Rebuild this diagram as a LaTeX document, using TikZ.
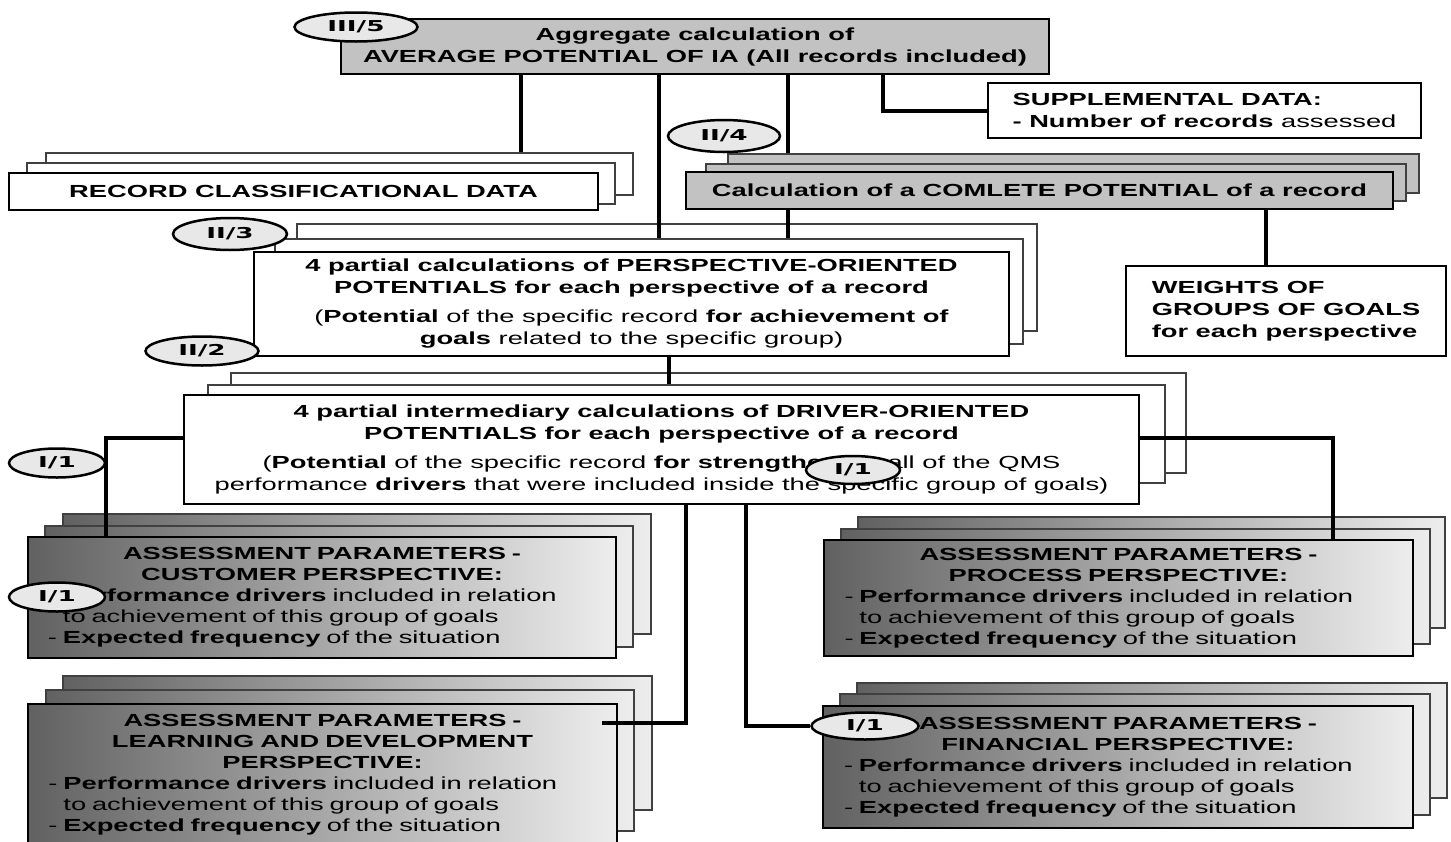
\documentclass[tikz,border=0pt]{standalone}
\usepackage{fontspec}
\setmainfont{Liberation Sans}[FakeStretch=1.56]
\newfontfamily\tagfont{DejaVu Sans}[FakeStretch=1.75]
\usetikzlibrary{shapes.geometric, positioning}
\definecolor{boxgray}{gray}{0.76}
\definecolor{taggray}{gray}{0.91}
\definecolor{sheetline}{gray}{0.25}
\definecolor{shadedark}{gray}{0.38}
\definecolor{shadelight}{gray}{0.93}
\tikzstyle{sheet} = [draw=sheetline, line width=1.5pt, rectangle, anchor=north west, inner sep=0pt]
\tikzstyle{front} = [draw, line width=2pt, rectangle, anchor=north west, fill=white, align=center, font=\fontsize{17.5}{22}\selectfont]
\tikzstyle{grayfill} = [fill=boxgray]
\tikzstyle{shadefill} = [left color=shadedark, right color=shadelight]
\tikzstyle{assess} = [front, shadefill, align=left, text width=548pt, font=\fontsize{17.5}{21}\selectfont]
\tikzstyle{tag} = [draw, ellipse, line width=2.5pt, fill=taggray, inner sep=0pt, font=\tagfont\bfseries\fontsize{15}{16}\selectfont]
\tikzstyle{conn} = [draw, line width=4pt]
\newcommand{\headline}[1]{\makebox[\linewidth]{\textbf{#1}}}
\begin{document}
\begin{tikzpicture}[x=1pt, y=-1pt]
	\useasboundingbox (0,0) rectangle (1451,841);
	
	% level III
	\node [front, grayfill, minimum width=708pt, minimum height=55pt] (top) at (340,18) {\textbf{Aggregate calculation of}\\\textbf{AVERAGE POTENTIAL OF IA (All records included)}};
	\node [front, align=left, minimum width=433pt, minimum height=55pt] (supp) at (987,82) {\textbf{SUPPLEMENTAL DATA:}\\\textbf{- Number of records} assessed};
	
	% record data
	\node [sheet, fill=white, minimum width=587pt, minimum height=42pt] (recb) at (45,152) {};
	\node [sheet, fill=white, minimum width=588pt, minimum height=41pt] (recm) at (26,162) {};
	\node [front, minimum width=589pt, minimum height=37pt] (rec) at (8,172) {\textbf{RECORD CLASSIFICATIONAL DATA}};
	
	% complete potential
	\node [sheet, grayfill, minimum width=691pt, minimum height=39pt] (cpltb) at (727,153) {};
	\node [sheet, grayfill, minimum width=700pt, minimum height=37pt] (cpltm) at (705,163) {};
	\node [front, grayfill, minimum width=707pt, minimum height=37pt] (cplt) at (685,171) {\textbf{Calculation of a COMLETE POTENTIAL of a record}};
	\node [front, align=left, minimum width=320pt, minimum height=90pt] (weights) at (1125,265) {\textbf{WEIGHTS OF}\\\textbf{GROUPS OF GOALS}\\\textbf{for each perspective}};
	
	% perspective-oriented potentials
	\node [sheet, fill=white, minimum width=740pt, minimum height=107pt] (p3b) at (296,223) {};
	\node [sheet, fill=white, minimum width=748pt, minimum height=105pt] (p3m) at (274,238) {};
	\node [front, minimum width=755pt, minimum height=104pt] (p3) at (253,251) {\textbf{4 partial calculations of PERSPECTIVE-ORIENTED}\\\textbf{POTENTIALS for each perspective of a record}\\[7pt](\textbf{Potential} of the specific record \textbf{for achievement of}\\\textbf{goals} related to the specific group)};
	
	% driver-oriented potentials
	\node [sheet, fill=white, minimum width=955pt, minimum height=100pt] (drvb) at (230,372) {};
	\node [sheet, fill=white, minimum width=957pt, minimum height=98pt] (drvm) at (207,384) {};
	\node [front, minimum width=955pt, minimum height=109pt] (drv) at (183,394) {\textbf{4 partial intermediary calculations of DRIVER-ORIENTED}\\\textbf{POTENTIALS for each perspective of a record}\\[7pt](\textbf{Potential} of the specific record \textbf{for strengthening} all of the QMS\\performance \textbf{drivers} that were included inside the specific group of goals)};
	
	% assessment parameters
	\node [sheet, shadefill, minimum width=588pt, minimum height=120pt] (custb) at (62,513) {};
	\node [sheet, shadefill, minimum width=588pt, minimum height=121pt] (custm) at (44,525) {};
	\node [assess, minimum width=588pt, minimum height=121pt] (cust) at (27,536) {\headline{ASSESSMENT PARAMETERS -}\\\headline{CUSTOMER PERSPECTIVE:}\\- \textbf{Performance drivers} included in relation\\\phantom{- }to achievement of this group of goals\\- \textbf{Expected frequency} of the situation};
	
	\node [sheet, shadefill, minimum width=587pt, minimum height=111pt] (procb) at (857,516) {};
	\node [sheet, shadefill, minimum width=589pt, minimum height=115pt] (procm) at (840,528) {};
	\node [assess, minimum width=589pt, minimum height=116pt] (proc) at (823,539) {\headline{ASSESSMENT PARAMETERS -}\\\headline{PROCESS PERSPECTIVE:}\\- \textbf{Performance drivers} included in relation\\\phantom{- }to achievement of this group of goals\\- \textbf{Expected frequency} of the situation};
	
	\node [sheet, shadefill, minimum width=589pt, minimum height=134pt] (learnb) at (62,675) {};
	\node [sheet, shadefill, minimum width=588pt, minimum height=141pt] (learnm) at (45,689) {};
	\node [assess, minimum width=589pt, minimum height=142pt] (learn) at (27,703) {\headline{ASSESSMENT PARAMETERS -}\\\headline{LEARNING AND DEVELOPMENT}\\\headline{PERSPECTIVE:}\\- \textbf{Performance drivers} included in relation\\\phantom{- }to achievement of this group of goals\\- \textbf{Expected frequency} of the situation};
	
	\node [sheet, shadefill, minimum width=590pt, minimum height=115pt] (finb) at (856,682) {};
	\node [sheet, shadefill, minimum width=590pt, minimum height=121pt] (finm) at (839,693) {};
	\node [assess, minimum width=590pt, minimum height=122pt] (fin) at (822,705) {\headline{ASSESSMENT PARAMETERS -}\\\headline{FINANCIAL PERSPECTIVE:}\\- \textbf{Performance drivers} included in relation\\\phantom{- }to achievement of this group of goals\\- \textbf{Expected frequency} of the situation};
	
	% level tags
	\node [tag, minimum width=123pt, minimum height=29pt] (tagIIIv) at (356,27) {III/5};
	\node [tag, minimum width=112pt, minimum height=32pt] (tagIIiv) at (724,136) {II/4};
	\node [tag, minimum width=114pt, minimum height=32pt] (tagIIiii) at (230,234) {II/3};
	\node [tag, minimum width=113pt, minimum height=29pt] (tagIIii) at (202,351) {II/2};
	\node [tag, minimum width=107pt, minimum height=27pt] (tagfin) at (865,726) {I/1};
	
	\coordinate (tA) at ([xshift=-174pt]top.south);
	\coordinate (tB) at ([xshift=-36pt]top.south);
	\coordinate (tC) at ([xshift=93pt]top.south);
	\coordinate (tD) at ([xshift=188pt]top.south);
	\coordinate (wA) at ([xshift=226.5pt]cplt.south);
	\coordinate (pA) at ([xshift=37.5pt]p3.south);
	
	\path [conn] (tA) -- (tA |- recb.north);
	\path [conn] (tB) -- (tB |- p3m.north);
	\path [conn] (tC) -- (tC |- cpltb.north);
	\path [conn] (tD) |- (supp.west);
	\path [conn] (tC |- cplt.south) -- (tC |- p3m.north);
	\path [conn] (wA) -- (wA |- weights.north);
	\path [conn] (pA) -- (pA |- drvm.north);
	\path [conn] ([yshift=11.5pt]drv.west) -| ([xshift=-216pt]cust.north);
	\path [conn] ([yshift=11.5pt]drv.east) -| ([xshift=214.5pt]proc.north);
	\path [conn] ([xshift=24.5pt]drv.south) |- ([xshift=-16pt, yshift=52pt]learn.east);
	\path [conn] ([xshift=84.5pt]drv.south) |- (tagfin.west);
	
	\node [tag, minimum width=96pt, minimum height=29pt] (tagIa) at (57,463) {I/1};
	\node [tag, minimum width=94pt, minimum height=28pt] (tagIb) at (853,470) {I/1};
	\node [tag, minimum width=96pt, minimum height=29pt] (tagIc) at (57,597) {I/1};
\end{tikzpicture}
\end{document}
